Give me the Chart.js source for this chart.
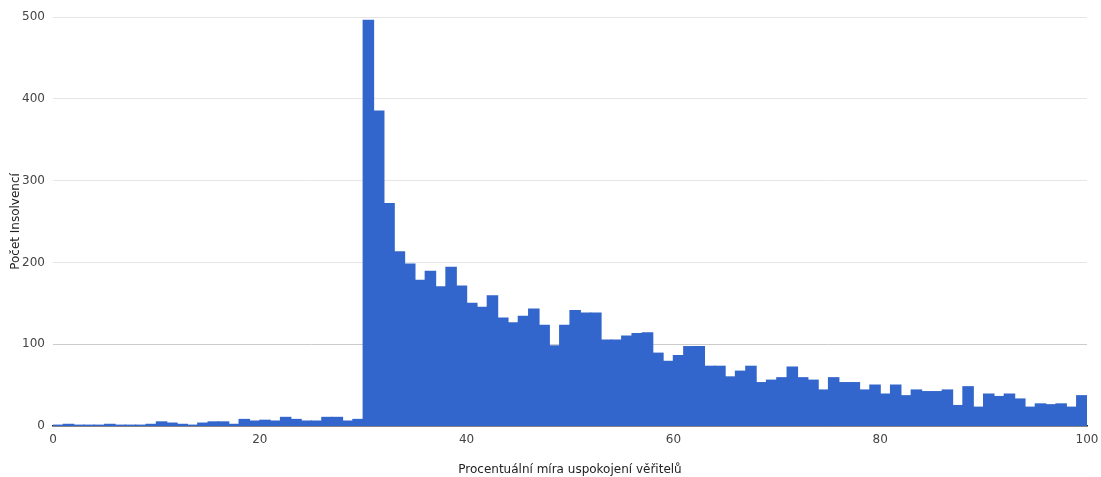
<!DOCTYPE html>
<html>
<head>
<meta charset="utf-8">
<script src="https://cdn.jsdelivr.net/npm/chart.js@4"></script>
<style>
  html, body { margin: 0; padding: 0; background: #fff; }
  #wrap { width: 1101px; height: 477px; }
</style>
</head>
<body>
<div id="wrap"><canvas id="histogram"></canvas></div>
<script>
// počty insolvencí v jednotlivých procentních třídách (0-1, 1-2, ... 99-100)
const counts = [
  1, 2, 1, 1, 1, 2, 1, 1, 1, 2,
  5, 3.5, 2, 1, 3.5, 5, 5, 2, 8, 6,
  7, 6, 10.5, 8, 6, 6, 10.5, 10.5, 6, 8,
  496, 385, 272, 213, 198, 178, 189, 170, 194, 171,
  150, 145, 159, 132, 126, 134, 143, 123, 98, 123,
  141, 138, 138, 105, 105, 110, 113, 114, 89, 79,
  86, 97, 97, 73, 73, 60, 67, 73, 53, 56,
  59, 72, 59, 56, 44, 59, 53, 53, 44, 50,
  39, 50, 37, 44, 42, 42, 44, 25, 48, 23,
  39, 36, 39, 33, 23, 27, 26, 27, 23, 37
];
const xTicks = [0, 20, 40, 60, 80, 100];
const yTicks = [0, 100, 200, 300, 400, 500];

// středy tříd
const binCenters = counts.map((_, i) => i + 0.5);

const ctx = document.getElementById("histogram").getContext("2d");

new Chart(ctx, {
  type: "bar",
  data: {
    datasets: [
      {
        label: "Počet insolvencí",
        data: binCenters.map((x, i) => ({ x: x, y: counts[i] })),
        backgroundColor: "#3366cc",
        borderWidth: 0,
        inflateAmount: 0.6,
        barPercentage: 1,
        categoryPercentage: 1,
      },
    ],
  },
  options: {
    responsive: true,
    maintainAspectRatio: false,
    animation: false,
    layout: { padding: { top: 17, right: 14, left: 0, bottom: 0 } },
    plugins: {
      legend: { display: false },
      tooltip: { enabled: false },
    },
    scales: {
      x: {
        type: "linear",
        min: 0,
        max: 100,
        offset: false,
        z: 1,
        grid: { display: false, drawTicks: false },
        border: { display: true, color: "#222", width: 1.5 },
        afterBuildTicks: (scale) => {
          scale.ticks = xTicks.map((v) => ({ value: v }));
        },
        afterFit: (scale) => {
          scale.height = 51;
          scale.paddingLeft = 0;
          scale.paddingRight = 0;
        },
        ticks: {
          color: "#444",
          padding: 7,
          maxRotation: 0,
          font: { family: "DejaVu Sans", size: 12 },
        },
        title: {
          display: true,
          text: "Procentuální míra uspokojení věřitelů",
          color: "#222",
          padding: { top: 9, bottom: 0 },
          font: { family: "DejaVu Sans", size: 12 },
        },
      },
      y: {
        min: 0,
        max: 500,
        afterBuildTicks: (scale) => {
          scale.ticks = yTicks.map((v) => ({ value: v }));
        },
        afterFit: (scale) => {
          scale.width = 53;
        },
        grid: {
          drawTicks: false,
          color: (c) => (c.tick.value === 100 ? "#cccccc" : "#e6e6e6"),
          lineWidth: 1,
        },
        border: { display: false },
        ticks: {
          color: "#444",
          padding: 8,
          font: { family: "DejaVu Sans", size: 12 },
        },
        title: {
          display: true,
          text: "Počet Insolvencí",
          color: "#222",
          padding: { top: 9, bottom: 0 },
          font: { family: "DejaVu Sans", size: 12 },
        },
      },
    },
  },
});
</script>
</body>
</html>
